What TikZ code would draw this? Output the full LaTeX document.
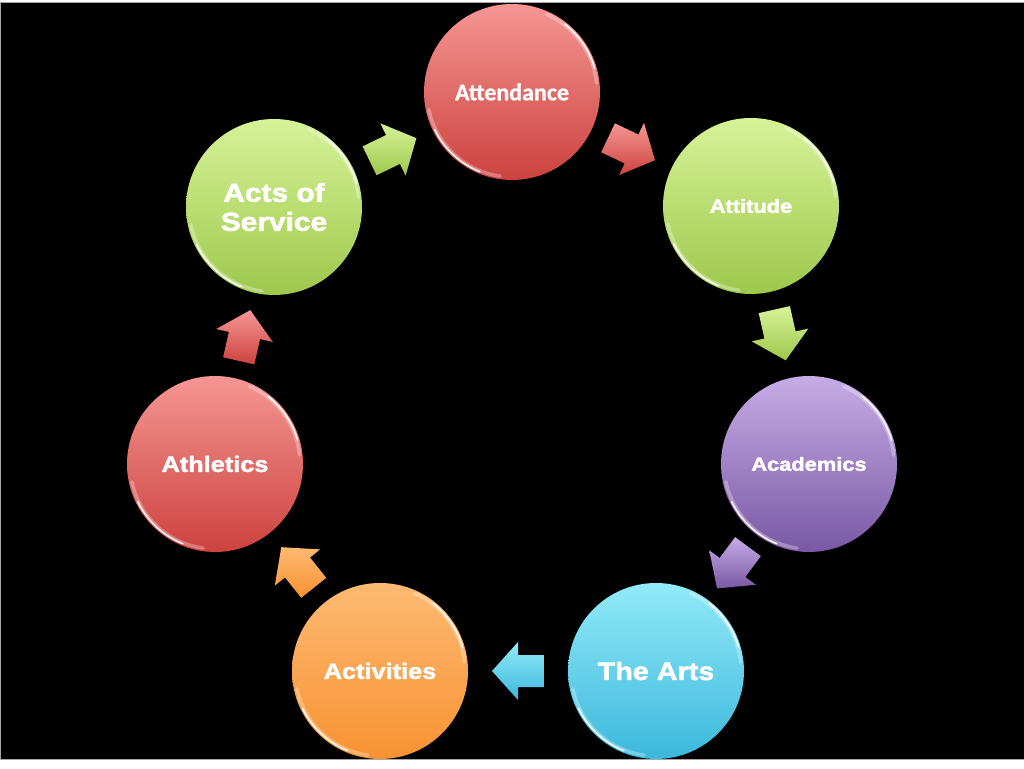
\documentclass[tikz,border=0pt]{standalone}
\usepackage{fontspec}
\setmainfont{Liberation Sans}
\newfontfamily\heavyfont{Liberation Sans}[FakeStretch=1.15,FakeBold=2]
\newfontfamily\calfont{Carlito}[FakeBold=0.8]
\usetikzlibrary{calc}

\definecolor{redTop}{RGB}{245,150,148}
\definecolor{redBot}{RGB}{204,66,62}
\definecolor{greenTop}{RGB}{214,243,152}
\definecolor{greenBot}{RGB}{158,200,76}
\definecolor{purpleTop}{RGB}{198,172,230}
\definecolor{purpleBot}{RGB}{122,88,164}
\definecolor{blueTop}{RGB}{146,234,249}
\definecolor{blueBot}{RGB}{60,184,220}
\definecolor{orangeTop}{RGB}{253,186,114}
\definecolor{orangeBot}{RGB}{248,146,50}

% block arrow half way between two balls: source, target, angle, colour
\newcommand{\BlockArrow}[4]{%
  \begin{scope}[shift={($(#1)!0.5!(#2)$)}, rotate=#3]
    \shade[top color=#4Top, bottom color=#4Bot]
      (-26,-16) -- (0,-16) -- (0,-29) -- (26,0) -- (0,29) -- (0,16) -- (-26,16) -- cycle;
  \end{scope}}

\begin{document}
\begin{tikzpicture}[x=1pt,y=1pt,
    ball/.style={circle, minimum size=176pt, inner sep=0pt, align=center, text=white},
    fs/.style 2 args={font=\heavyfont\bfseries\fontsize{#1}{#2}\selectfont},
    redball/.style={ball, top color=redTop, bottom color=redBot},
    greenball/.style={ball, top color=greenTop, bottom color=greenBot},
    purpleball/.style={ball, top color=purpleTop, bottom color=purpleBot},
    blueball/.style={ball, top color=blueTop, bottom color=blueBot},
    orangeball/.style={ball, top color=orangeTop, bottom color=orangeBot},
    glow/.style={white, line width=3.5pt, opacity=0.3, line cap=round},
    rim/.style={white, line width=1.6pt, opacity=0.9, line cap=round}]
    \useasboundingbox (0,0) rectangle (1024,768);
    \clip (0,0) rectangle (1024,768);
    \fill[white] (0,0) rectangle (1024,768);
    \filldraw[fill=black, draw=gray!70, line width=1pt] (0.5,8.5) rectangle (1030,765.5);

    \node[redball, font=\calfont\bfseries\fontsize{24}{28}\selectfont] (attend) at (512,676) {Attendance};
    \node[greenball, fs={19}{23}] (attit) at (751,562) {Attitude};
    \node[purpleball, fs={19}{23}] (acad) at (809,304) {Academics};
    \node[blueball, fs={25}{29}] (arts) at (656,97) {The Arts};
    \node[orangeball, fs={22}{26}] (activ) at (380,97) {Activities};
    \node[redball, fs={22}{26}] (athl) at (215,304) {Athletics};
    \node[greenball, fs={26}{29}] (acts) at (274,561) {Acts of\\Service};

    %\foreach \n in {attend,attit} {\draw (\n) circle (88);}
    \foreach \n in {attend,attit,acad,arts,activ,athl,acts} {
        \draw[glow] ([shift={(192:85)}]\n.center) arc[start angle=192, end angle=262, radius=85];
        \draw[rim] ([shift={(206:86)}]\n.center) arc[start angle=206, end angle=248, radius=86];
        \draw[glow] ([shift={(6:85)}]\n.center) arc[start angle=6, end angle=66, radius=85];
        \draw[rim] ([shift={(16:86)}]\n.center) arc[start angle=16, end angle=52, radius=86];
    }

    \BlockArrow{acts}{attend}{25.8}{green}
    \BlockArrow{attend}{attit}{-25.5}{red}
    \BlockArrow{attit}{acad}{-77.3}{green}
    \BlockArrow{acad}{arts}{-126.5}{purple}
    \BlockArrow{arts}{activ}{180}{blue}
    \BlockArrow{activ}{athl}{128.6}{orange}
    \BlockArrow{athl}{acts}{77.1}{red}
\end{tikzpicture}
\end{document}
